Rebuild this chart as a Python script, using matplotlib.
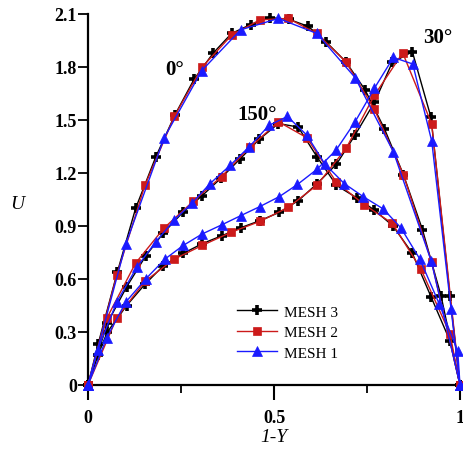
import matplotlib
matplotlib.use("Agg")
import matplotlib.pyplot as plt
from matplotlib.ticker import FixedLocator

plt.rcParams['font.family'] = ['Liberation Serif', 'DejaVu Serif']

# ---------------- data ----------------
# 0 degrees
x0_m3 = [0, 0.027, 0.079, 0.128, 0.182, 0.234, 0.285, 0.337, 0.386, 0.437, 0.489, 0.540, 0.592, 0.641, 0.693, 0.745, 0.797, 0.848, 0.899, 0.949, 1.0]
u0_m3 = [0, 0.23, 0.64, 1.00, 1.29, 1.53, 1.73, 1.88, 1.99, 2.04, 2.08, 2.07, 2.03, 1.94, 1.83, 1.67, 1.45, 1.19, 0.88, 0.505, 0]
x0_m2 = [0, 0.077, 0.153, 0.232, 0.307, 0.386, 0.462, 0.538, 0.615, 0.693, 0.770, 0.848, 0.924, 1.0]
u0_m2 = [0, 0.62, 1.13, 1.52, 1.80, 1.98, 2.067, 2.075, 1.99, 1.83, 1.56, 1.19, 0.694, 0]
x0_m1 = [0, 0.102, 0.205, 0.306, 0.410, 0.512, 0.615, 0.718, 0.821, 0.923, 1.0]
u0_m1 = [0, 0.80, 1.40, 1.78, 2.01, 2.075, 1.99, 1.74, 1.32, 0.70, 0]

# 30 degrees
x30_m3 = [0, 0.027, 0.052, 0.104, 0.153, 0.2025, 0.256, 0.307, 0.360, 0.410, 0.462, 0.514, 0.565, 0.616, 0.668, 0.718, 0.770, 0.818, 0.872, 0.922, 0.973, 1.0]
u30_m3 = [0, 0.17, 0.30, 0.45, 0.57, 0.675, 0.745, 0.80, 0.845, 0.89, 0.93, 0.977, 1.043, 1.14, 1.25, 1.415, 1.60, 1.826, 1.886, 1.515, 0.505, 0]
x30_m2 = [0, 0.077, 0.153, 0.232, 0.307, 0.384, 0.462, 0.538, 0.615, 0.694, 0.770, 0.846, 0.924, 1.0]
u30_m2 = [0, 0.38, 0.587, 0.713, 0.79, 0.864, 0.926, 1.005, 1.13, 1.34, 1.64, 1.88, 1.477, 0]
x30_m1 = [0, 0.050, 0.101, 0.155, 0.207, 0.256, 0.307, 0.360, 0.410, 0.462, 0.514, 0.563, 0.615, 0.667, 0.718, 0.770, 0.821, 0.873, 0.924, 0.976, 1.0]
u30_m1 = [0, 0.266, 0.468, 0.60, 0.713, 0.79, 0.855, 0.907, 0.958, 1.01, 1.066, 1.135, 1.22, 1.33, 1.49, 1.68, 1.854, 1.817, 1.38, 0.43, 0]

# 150 degrees
x150_m3 = [0, 0.052, 0.104, 0.155, 0.2025, 0.256, 0.306, 0.357, 0.409, 0.460, 0.512, 0.565, 0.616, 0.668, 0.722, 0.770, 0.820, 0.872, 0.922, 0.973, 1.0]
u150_m3 = [0, 0.35, 0.556, 0.73, 0.86, 0.98, 1.07, 1.17, 1.28, 1.39, 1.48, 1.46, 1.29, 1.13, 1.06, 0.99, 0.90, 0.745, 0.50, 0.25, 0]
x150_m2 = [0, 0.051, 0.128, 0.205, 0.283, 0.359, 0.435, 0.512, 0.588, 0.668, 0.743, 0.818, 0.895, 0.973, 1.0]
u150_m2 = [0, 0.38, 0.69, 0.89, 1.04, 1.18, 1.345, 1.49, 1.40, 1.147, 1.02, 0.915, 0.656, 0.29, 0]
x150_m1 = [0, 0.026, 0.077, 0.131, 0.182, 0.232, 0.280, 0.328, 0.383, 0.434, 0.487, 0.536, 0.588, 0.637, 0.689, 0.740, 0.794, 0.841, 0.892, 0.944, 0.994, 1.0]
u150_m1 = [0, 0.20, 0.468, 0.666, 0.81, 0.934, 1.03, 1.14, 1.245, 1.35, 1.47, 1.52, 1.415, 1.25, 1.14, 1.066, 0.996, 0.89, 0.713, 0.46, 0.19, 0]

mesh_labels = ["MESH 3", "MESH 2", "MESH 1"]
angle_labels = ["0°", "30°", "150°"]
x_ticks = [0, 0.5, 1]
x_ticklabels = ["0", "0.5", "1"]
y_ticks = [0, 0.3, 0.6, 0.9, 1.2, 1.5, 1.8, 2.1]
y_ticklabels = ["0", "0.3", "0.6", "0.9", "1.2", "1.5", "1.8", "2.1"]

# ---------------- plot ----------------
W, H = 463, 456
fig = plt.figure(figsize=(W / 100, H / 100), dpi=100)
ax = fig.add_axes([88 / W, 1 - 386 / H, (460 - 88) / W, (386 - 15) / H])

black = "#000000"
red = "#cc1a1a"
blue = "#1a1aff"

styles = {
    "m3": dict(color=black, lw=1.0, marker="+", ms=7.5, mew=2.6, mec=black),
    "m2": dict(color=red, lw=1.0, marker="s", ms=6.0, mfc=red, mec=red, mew=0.5),
    "m1": dict(color=blue, lw=1.0, marker="^", ms=6.8, mfc=blue, mec=blue, mew=0.5),
}

sets = [
    (x0_m3, u0_m3, x0_m2, u0_m2, x0_m1, u0_m1),
    (x30_m3, u30_m3, x30_m2, u30_m2, x30_m1, u30_m1),
    (x150_m3, u150_m3, x150_m2, u150_m2, x150_m1, u150_m1),
]
handles = []
for i, (a3, b3, a2, b2, a1, b1) in enumerate(sets):
    h3, = ax.plot(a3, b3, clip_on=False, zorder=3, **styles["m3"])
    h2, = ax.plot(a2, b2, clip_on=False, zorder=4, **styles["m2"])
    h1, = ax.plot(a1, b1, clip_on=False, zorder=5, **styles["m1"])
    if i == 0:
        handles = [h3, h2, h1]

ax.set_xlim(0, 1)
ax.set_ylim(0, 2.1)

for s in ["top", "right"]:
    ax.spines[s].set_visible(False)
for s in ["left", "bottom"]:
    ax.spines[s].set_linewidth(1.6)

ax.xaxis.set_major_locator(FixedLocator(x_ticks))
ax.xaxis.set_minor_locator(FixedLocator([0.25, 0.75]))
ax.set_xticklabels(x_ticklabels)
ax.yaxis.set_major_locator(FixedLocator(y_ticks))
ax.set_yticklabels(y_ticklabels)

ax.tick_params(axis="x", which="major", direction="out", length=11, width=1.5, pad=6)
ax.tick_params(axis="x", which="minor", direction="out", length=6, width=1.3)
ax.tick_params(axis="y", which="major", direction="out", length=7, width=1.3, pad=1)
for lab in ax.get_xticklabels() + ax.get_yticklabels():
    lab.set_fontweight("bold")
    lab.set_fontsize(13)

fig.text(274 / W, 1 - 438 / H, "1-Y", style="italic", fontsize=14, ha="center", va="center")
fig.text(17 / W, 1 - 205 / H, "U", style="italic", fontsize=14, ha="center", va="center")

ax.text(0.232, 1.79, angle_labels[0], fontsize=15, fontweight="bold", ha="center", va="center")
ax.text(0.941, 1.972, angle_labels[1], fontsize=15, fontweight="bold", ha="center", va="center")
ax.text(0.454, 1.536, angle_labels[2], fontsize=15, fontweight="bold", ha="center", va="center")

leg = ax.legend(handles, mesh_labels, loc="upper left",
                bbox_to_anchor=((237 - 88) / 372, (386 - 306) / 371),
                frameon=False, fontsize=11, handlelength=2.6, handletextpad=0.45,
                labelspacing=0.45, borderpad=0, borderaxespad=0)

fig.savefig("out.png", dpi=100)
